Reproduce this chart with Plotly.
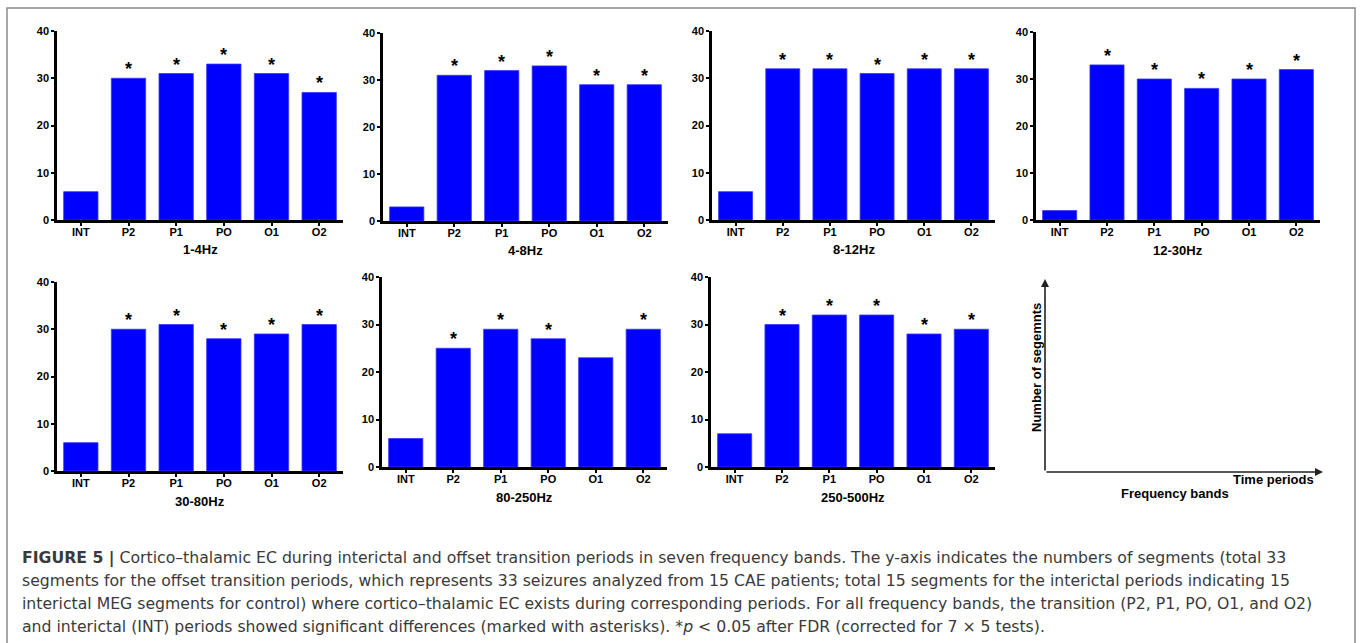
import plotly.graph_objects as go

W, H = 1360, 643

# ---------------- data ----------------
periods = ["INT", "P2", "P1", "PO", "O1", "O2"]
band_names = ["1-4Hz", "4-8Hz", "8-12Hz", "12-30Hz", "30-80Hz", "80-250Hz", "250-500Hz"]
seg_1_4 = [6, 30, 31, 33, 31, 27]
seg_4_8 = [3, 31, 32, 33, 29, 29]
seg_8_12 = [6, 32, 32, 31, 32, 32]
seg_12_30 = [2, 33, 30, 28, 30, 32]
seg_30_80 = [6, 30, 31, 28, 29, 31]
seg_80_250 = [6, 25, 29, 27, 23, 29]
seg_250_500 = [7, 30, 32, 32, 28, 29]
sig_1_4 = [0, 1, 1, 1, 1, 1]
sig_4_8 = [0, 1, 1, 1, 1, 1]
sig_8_12 = [0, 1, 1, 1, 1, 1]
sig_12_30 = [0, 1, 1, 1, 1, 1]
sig_30_80 = [0, 1, 1, 1, 1, 1]
sig_80_250 = [0, 1, 1, 1, 0, 1]
sig_250_500 = [0, 1, 1, 1, 1, 1]
y_ticks = [0, 10, 20, 30, 40]

band_values = [seg_1_4, seg_4_8, seg_8_12, seg_12_30, seg_30_80, seg_80_250, seg_250_500]
band_sig = [sig_1_4, sig_4_8, sig_8_12, sig_12_30, sig_30_80, sig_80_250, sig_250_500]

caption_lines = [
    "<b>FIGURE 5 |</b> Cortico–thalamic EC during interictal and offset transition periods in seven frequency bands. The y-axis indicates the numbers of segments (total 33",
    "segments for the offset transition periods, which represents 33 seizures analyzed from 15 CAE patients; total 15 segments for the interictal periods indicating 15",
    "interictal MEG segments for control) where cortico–thalamic EC exists during corresponding periods. For all frequency bands, the transition (P2, P1, PO, O1, and O2)",
    "and interictal (INT) periods showed significant differences (marked with asterisks). *<i>p</i> &lt; 0.05 after FDR (corrected for 7 × 5 tests).",
]

# ---------------- layout (pixel boxes: x_left, x_right, y_top, y_bottom) ----------------
boxes = [
    (57, 343, 31, 220),
    (383, 668, 33, 221),
    (712, 995, 31, 220),
    (1036, 1320, 32, 220),
    (57, 343, 282, 471),
    (382, 667, 277, 467),
    (711, 995, 277, 467),
]

FONT = "Liberation Sans, Arial, sans-serif"
CAP_FONT = "DejaVu Sans, sans-serif"
BLUE = "#0000ff"

fig = go.Figure()
layout = dict(
    width=W, height=H,
    margin=dict(l=0, r=0, t=0, b=0, pad=0),
    paper_bgcolor="white", plot_bgcolor="white",
    showlegend=False,
    font=dict(family=FONT, color="black"),
)
annotations = []
shapes = []

for i, (vals, sig, name, box) in enumerate(zip(band_values, band_sig, band_names, boxes)):
    n = "" if i == 0 else str(i + 1)
    xa, ya = "x" + n, "y" + n
    x0, x1, yt, yb = box
    fig.add_trace(go.Bar(
        x=periods, y=vals, xaxis=xa, yaxis=ya,
        marker=dict(color=BLUE, line=dict(width=0.8, color="#3535ff")),
        width=0.72, hoverinfo="x+y",
    ))
    layout["xaxis" + n] = dict(
        domain=[x0 / W, x1 / W], anchor=ya, type="category",
        range=[-0.5, 5.5], showline=True, linecolor="black", linewidth=2.5,
        ticks="outside", ticklen=3, tickwidth=2, tickcolor="black",
        ticklabelstandoff=-3,
        tickfont=dict(size=11, family=FONT, weight="bold", color="black"),
        showgrid=False, zeroline=False, fixedrange=True, automargin=False,
    )
    layout["yaxis" + n] = dict(
        domain=[1 - yb / H, 1 - yt / H], anchor=xa,
        range=[0, 40], tickvals=y_ticks, showline=True, linecolor="black",
        linewidth=2.5, ticks="outside", ticklen=3, tickwidth=2, tickcolor="black",
        tickfont=dict(size=11, family=FONT, weight="bold", color="black"),
        showgrid=False, zeroline=False, fixedrange=True, automargin=False,
    )
    annotations.append(dict(
        xref=xa + " domain", yref=ya + " domain", x=0.5, y=0,
        yanchor="middle", yshift=-30, showarrow=False, text=name,
        font=dict(size=13, family=FONT, weight="bold", color="black"),
    ))
    for p, v, s in zip(periods, vals, sig):
        if s:
            annotations.append(dict(
                xref=xa, yref=ya, x=p, y=v, yanchor="bottom", yshift=-3,
                showarrow=False, text="*",
                font=dict(size=18, family=FONT, weight="bold", color="black"),
            ))

# ---------------- schematic key panel ----------------
ox_px, oy_px = 1045, 472
top_px, right_px = 279, 1323
annotations.append(dict(
    xref="paper", yref="paper",
    x=ox_px / W, y=1 - top_px / H, ax=0, ay=oy_px - top_px, text="", showarrow=True,
    arrowhead=2, arrowsize=1, arrowwidth=1.6, arrowcolor="#222",
))
annotations.append(dict(
    xref="paper", yref="paper",
    x=right_px / W, y=1 - oy_px / H, ax=-(right_px - ox_px), ay=0, text="", showarrow=True,
    arrowhead=2, arrowsize=1, arrowwidth=1.6, arrowcolor="#222",
))
annotations.append(dict(
    xref="paper", yref="paper", x=1036 / W, y=1 - 368 / H, textangle=-90,
    text="Number of segemnts", showarrow=False, xanchor="center", yanchor="middle",
    font=dict(size=13, family=FONT, weight="bold", color="black"),
))
annotations.append(dict(
    xref="paper", yref="paper", x=1273 / W, y=1 - 479 / H,
    text="Time periods", showarrow=False, xanchor="center", yanchor="middle",
    font=dict(size=13, family=FONT, weight="bold", color="black"),
))
annotations.append(dict(
    xref="paper", yref="paper", x=1175 / W, y=1 - 493 / H,
    text="Frequency bands", showarrow=False, xanchor="center", yanchor="middle",
    font=dict(size=13, family=FONT, weight="bold", color="black"),
))

# ---------------- caption ----------------
for k, line in enumerate(caption_lines):
    annotations.append(dict(
        xref="paper", yref="paper", x=20 / W, y=1 - (558 + 22.8 * k) / H,
        xanchor="left", yanchor="middle", showarrow=False, text=line,
        font=dict(size=15.7, family=CAP_FONT, color="#3a3a3a"),
    ))

# border box
shapes.append(dict(
    type="rect", xref="paper", yref="paper",
    x0=7 / W, x1=1355 / W, y0=-0.05, y1=1 - 8 / H,
    line=dict(color="#8a8a8a", width=1.5), fillcolor="rgba(0,0,0,0)", layer="below",
))

layout["annotations"] = annotations
layout["shapes"] = shapes
fig.update_layout(**layout)
fig.write_html(
    "out.html",
    config={"displayModeBar": False},
    post_script="document.body.style.margin='0px';document.body.style.overflow='hidden';",
)
